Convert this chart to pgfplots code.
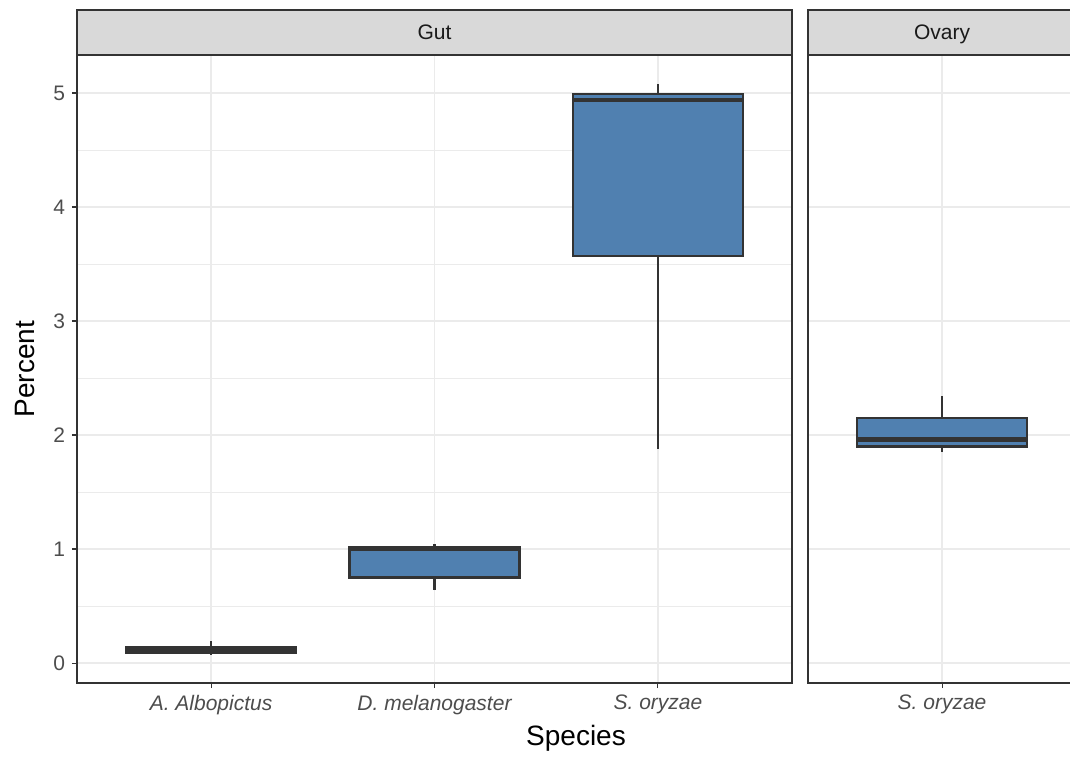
\documentclass[border=0pt]{standalone}
\usepackage{pgfplots}
\pgfplotsset{compat=1.18}
\usepgfplotslibrary{statistics}
\usepackage{fontspec}
\setmainfont{Liberation Sans}

\definecolor{gray92}{HTML}{EBEBEB}
\definecolor{gray85}{HTML}{D9D9D9}
\definecolor{gray30}{HTML}{4D4D4D}
\definecolor{gray20}{HTML}{333333}
\definecolor{gray10}{HTML}{1A1A1A}
\definecolor{steel}{HTML}{5080B0}

\pgfplotsset{
  facet/.style={
    scale only axis,
    height=314pt,
    ymin=-0.175, ymax=5.333,
    ytick={0,1,2,3,4,5},
    minor ytick={0.5,1.5,2.5,3.5,4.5},
    xmajorgrids, ymajorgrids, yminorgrids,
    major grid style={gray92, line width=0.6pt},
    minor grid style={gray92, line width=0.3pt},
    tick align=outside, tick pos=left,
    major tick length=2.5pt, minor tick length=0pt,
    tick style={gray20, line width=0.55pt},
    xticklabel style={font=\fontsize{10.5}{12}\selectfont\itshape, text=gray30},
    yticklabel style={font=\fontsize{10.5}{12}\selectfont, text=gray30},
    /pgf/number format/assume math mode=true,
    boxplot/draw direction=y,
  },
  box/.style={
    fill=steel, draw=gray20, line width=1.1pt,
    boxplot/draw direction=y,
    boxplot/box extend=0.76,
    boxplot/whisker extend=0,
    boxplot/every median/.style={line width=2.2pt},
  },
}

\begin{document}
\begin{tikzpicture}
\path[use as bounding box] (0pt,0pt) rectangle (535pt,-379pt);

% Gut panel
\begin{axis}[facet,
  at={(38.5pt,-341.5pt)}, anchor=south west,
  width=357.5pt,
  xmin=0.4, xmax=3.6,
  xtick={1,2,3},
  xticklabels={A. Albopictus, D. melanogaster, S. oryzae},
  axis line style={gray20, line width=0.6pt},
]
\addplot[box, boxplot prepared={draw position=1,
  lower whisker=0.07, lower quartile=0.09, median=0.11,
  upper quartile=0.14, upper whisker=0.19}] coordinates {};
\addplot[box, boxplot prepared={draw position=2,
  lower whisker=0.64, lower quartile=0.75, median=1.00,
  upper quartile=1.02, upper whisker=1.04}] coordinates {};
\addplot[box, boxplot prepared={draw position=3,
  lower whisker=1.88, lower quartile=3.57, median=4.94,
  upper quartile=4.99, upper whisker=5.08}] coordinates {};
\end{axis}

% Ovary panel
\begin{axis}[facet,
  at={(404pt,-341.5pt)}, anchor=south west,
  width=131pt,
  xmin=0.4, xmax=1.5726,
  xtick={1},
  xticklabels={S. oryzae},
  ytick=\empty, minor ytick={0.5,1.5,2.5,3.5,4.5},
  extra y ticks={0,1,2,3,4,5}, extra y tick labels={},
  extra y tick style={major tick length=0pt, grid=major},
  axis line style={draw=none},
]
\addplot[box, boxplot prepared={draw position=1,
  lower whisker=1.85, lower quartile=1.90, median=1.96,
  upper quartile=2.15, upper whisker=2.34}] coordinates {};
\end{axis}
\draw[gray20, line width=0.6pt] (535pt,-27.5pt) -- (404pt,-27.5pt) -- (404pt,-341.5pt) -- (535pt,-341.5pt);

% facet strips
\draw[fill=gray85, draw=gray20, line width=0.6pt] (38.5pt,-5pt) rectangle (396pt,-27.5pt);
\node[font=\fontsize{10.5}{12}\selectfont, text=gray10, anchor=base] at (217.25pt,-20pt) {Gut};
\fill[gray85] (404pt,-5pt) rectangle (535pt,-27.5pt);
\draw[gray20, line width=0.6pt] (535pt,-5pt) -- (404pt,-5pt) -- (404pt,-27.5pt) -- (535pt,-27.5pt);
\node[font=\fontsize{10.5}{12}\selectfont, text=gray10, anchor=base] at (471pt,-20pt) {Ovary};

% axis titles
\node[font=\fontsize{14}{16}\selectfont] at (288pt,-369pt) {Species};
\node[font=\fontsize{14}{16}\selectfont, rotate=90] at (12.5pt,-184.5pt) {Percent};
\end{tikzpicture}
\end{document}
